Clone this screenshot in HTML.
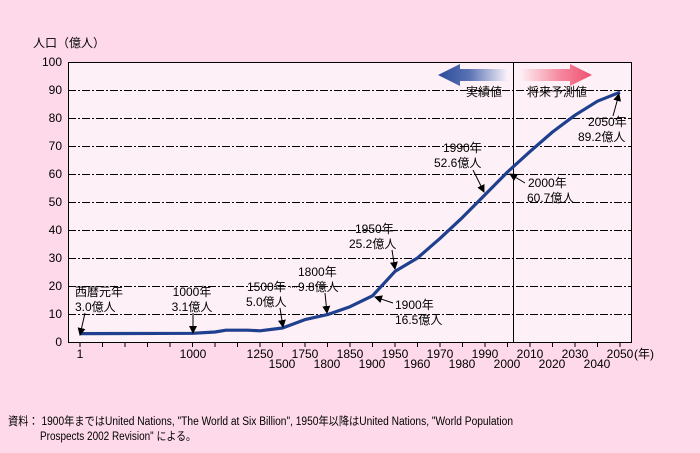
<!DOCTYPE html>
<html><head><meta charset="utf-8"><style>
body{margin:0;background:#fdd9e9;}
svg{display:block;font-family:"Liberation Sans","Noto Sans CJK JP",sans-serif;}
</style></head><body>
<svg width="700" height="453" viewBox="0 0 700 453">
<defs>
<linearGradient id="gb" x1="0" x2="1"><stop offset="0" stop-color="#2a4a9a"/><stop offset="0.45" stop-color="#5a72b4"/><stop offset="1" stop-color="#f6f0f8"/></linearGradient>
<linearGradient id="gp" x1="0" x2="1"><stop offset="0" stop-color="#fdf0f4"/><stop offset="0.55" stop-color="#f58aa0"/><stop offset="1" stop-color="#f0506e"/></linearGradient>
<marker id="ah" markerWidth="8" markerHeight="8" refX="7" refY="4" orient="auto" markerUnits="userSpaceOnUse"><path d="M0,0L8,4L0,8z" fill="#000"/></marker>
</defs>
<rect x="68" y="62" width="564" height="280" fill="#fdf0f6"/>
<g stroke="#000" stroke-width="1" stroke-dasharray="8,2,2,2">
<line x1="68" y1="62.5" x2="632" y2="62.5"/><line x1="68" y1="90.5" x2="632" y2="90.5"/><line x1="68" y1="118.5" x2="632" y2="118.5"/><line x1="68" y1="146.5" x2="632" y2="146.5"/><line x1="68" y1="174.5" x2="632" y2="174.5"/><line x1="68" y1="202.5" x2="632" y2="202.5"/><line x1="68" y1="230.5" x2="632" y2="230.5"/><line x1="68" y1="258.5" x2="632" y2="258.5"/><line x1="68" y1="286.5" x2="632" y2="286.5"/><line x1="68" y1="314.5" x2="632" y2="314.5"/>
</g>
<rect x="68.5" y="62.5" width="563" height="280" fill="none" stroke="#000"/>
<line x1="513.5" y1="62" x2="513.5" y2="342" stroke="#000"/>
<g stroke="#000">
<line x1="80" y1="342" x2="80" y2="347"/><line x1="102.5" y1="342" x2="102.5" y2="347"/><line x1="125" y1="342" x2="125" y2="347"/><line x1="147.5" y1="342" x2="147.5" y2="347"/><line x1="170" y1="342" x2="170" y2="347"/><line x1="192.5" y1="342" x2="192.5" y2="347"/><line x1="215" y1="342" x2="215" y2="347"/><line x1="237.5" y1="342" x2="237.5" y2="347"/><line x1="260" y1="342" x2="260" y2="347"/><line x1="282.5" y1="342" x2="282.5" y2="347"/><line x1="305" y1="342" x2="305" y2="347"/><line x1="327.5" y1="342" x2="327.5" y2="347"/><line x1="350" y1="342" x2="350" y2="347"/><line x1="372.5" y1="342" x2="372.5" y2="347"/><line x1="395" y1="342" x2="395" y2="347"/><line x1="417.5" y1="342" x2="417.5" y2="347"/><line x1="440" y1="342" x2="440" y2="347"/><line x1="462.5" y1="342" x2="462.5" y2="347"/><line x1="485" y1="342" x2="485" y2="347"/><line x1="507.5" y1="342" x2="507.5" y2="347"/><line x1="530" y1="342" x2="530" y2="347"/><line x1="552.5" y1="342" x2="552.5" y2="347"/><line x1="575" y1="342" x2="575" y2="347"/><line x1="597.5" y1="342" x2="597.5" y2="347"/><line x1="620" y1="342" x2="620" y2="347"/>
</g>
<g font-size="12" text-anchor="end" fill="#000">
<text x="62" y="66">100</text><text x="62" y="94">90</text><text x="62" y="122">80</text><text x="62" y="150">70</text><text x="62" y="178">60</text><text x="62" y="206">50</text><text x="62" y="234">40</text><text x="62" y="262">30</text><text x="62" y="290">20</text><text x="62" y="318">10</text><text x="62" y="346">0</text>
</g>
<text x="33" y="47" font-size="12">人口（億人）</text>
<g font-size="12" text-anchor="middle">
<text x="80" y="358">1</text><text x="193" y="358">1000</text><text x="260" y="358">1250</text><text x="305" y="358">1750</text><text x="350" y="358">1850</text><text x="395" y="358">1950</text><text x="440" y="358">1970</text><text x="485" y="358">1990</text><text x="530" y="358">2010</text><text x="575" y="358">2030</text><text x="620" y="358">2050</text>
<text x="282" y="368">1500</text><text x="327" y="368">1800</text><text x="372" y="368">1900</text><text x="417" y="368">1960</text><text x="462" y="368">1980</text><text x="507" y="368">2000</text><text x="552" y="368">2020</text><text x="597" y="368">2040</text>
</g>
<text x="634" y="358" font-size="12">(年)</text>
<polyline fill="none" stroke="#1f3f8f" stroke-width="3.2" stroke-linejoin="round" points="80,333.6 192.5,333.3 215,332 226,330.2 248,330.2 260,330.8 282.5,328 305,319.6 327.5,314.6 350,306.7 372.5,295.8 395,271.4 417.5,258 440,238.4 462.5,217.4 485,194.7 507.5,172 530,151.6 552.5,132 575,115.2 597.5,101.2 620,92.2"/>
<path d="M438,75L460,64V69H507V81H460V86Z" fill="url(#gb)"/>
<path d="M592,75L570,64V69H520V81H570V86Z" fill="url(#gp)"/>
<g font-size="12">
<text x="466" y="96">実績値</text><text x="527" y="96">将来予測値</text>
<text x="75" y="296">西暦元年</text><text x="75" y="311">3.0億人</text>
<text x="192" y="296" text-anchor="middle">1000年</text><text x="192" y="311" text-anchor="middle">3.1億人</text>
<text x="247" y="291">1500年</text><text x="246" y="306">5.0億人</text>
<text x="298" y="276">1800年</text><text x="298" y="291">9.8億人</text>
<text x="355" y="233">1950年</text><text x="349" y="248">25.2億人</text>
<text x="395" y="309">1900年</text><text x="395" y="324">16.5億人</text>
<text x="443" y="152">1990年</text><text x="434" y="167">52.6億人</text>
<text x="528" y="187">2000年</text><text x="527" y="202">60.7億人</text>
<text x="588" y="126">2050年</text><text x="578" y="141">89.2億人</text>
</g>
<g stroke="#000" stroke-width="1" fill="none" marker-end="url(#ah)">
<line x1="85" y1="313" x2="80" y2="335"/>
<line x1="193" y1="313" x2="193" y2="333"/>
<line x1="280" y1="308" x2="283" y2="327"/>
<line x1="325" y1="293" x2="327" y2="313"/>
<line x1="392" y1="250" x2="395" y2="269"/>
<line x1="393" y1="303" x2="375" y2="297"/>
<line x1="473" y1="170" x2="484" y2="192"/>
<line x1="525" y1="183" x2="510" y2="174"/>
<line x1="613" y1="116" x2="619" y2="94"/>
</g>
<line x1="290" y1="287" x2="297" y2="287" stroke="#000" stroke-dasharray="1,1"/>
<text x="8" y="425" font-size="11.5" textLength="505" lengthAdjust="spacingAndGlyphs">資料：  1900年まではUnited Nations, "The World at Six Billion", 1950年以降はUnited Nations, "World Population</text>
<text x="40" y="440" font-size="11.5" textLength="156" lengthAdjust="spacingAndGlyphs">Prospects 2002 Revision" による。</text>
</svg>
</body></html>
